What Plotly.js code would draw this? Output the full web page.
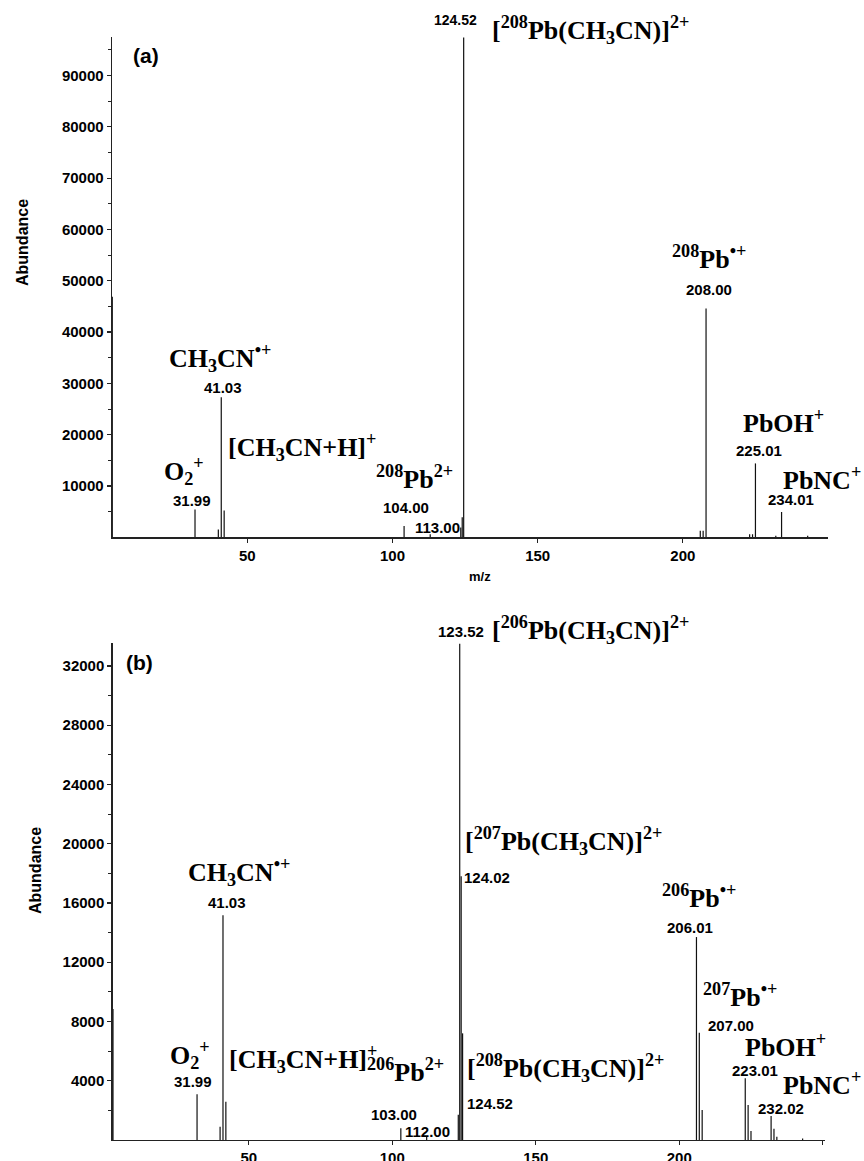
<!DOCTYPE html>
<html>
<head>
<meta charset="utf-8">
<script src="https://cdn.plot.ly/plotly-3.0.1.min.js"></script>
<style>html,body{margin:0;padding:0;background:#fff}#chart{width:864px;height:1161px}</style>
</head>
<body>
<div id="chart"></div>
<script>
// ---- Panel (a) data ----
const mzA = [3.5, 31.99, 40.02, 41.03, 42.03, 104.00, 113.00, 123.52, 124.02, 124.52, 206.01, 207.00, 208.00, 223.01, 224.01, 225.01, 232.02, 234.01, 243.0];
const abA = [46900, 5400, 1500, 27300, 5200, 2200, 600, 1900, 3900, 97400, 1300, 1300, 44600, 600, 600, 14400, 300, 4950, 300];
// ---- Panel (b) data ----
const mzB = [2.7, 31.99, 40.02, 41.03, 42.03, 103.00, 112.00, 123.02, 123.52, 124.02, 124.52, 206.01, 207.00, 208.00, 223.01, 224.01, 225.01, 232.02, 233.02, 234.02, 243.0];
const abB = [8840, 3080, 900, 15180, 2580, 790, 250, 1700, 33500, 17800, 7200, 13700, 7240, 2020, 4160, 2360, 600, 1620, 760, 220, 100];

// tick labels
const yTicksA = [10000, 20000, 30000, 40000, 50000, 60000, 70000, 80000, 90000];
const yTicksB = [4000, 8000, 12000, 16000, 20000, 24000, 28000, 32000];
const xTicks = [50, 100, 150, 200];

function sticks(mz, ab) {
  const x = [], y = [];
  for (let i = 0; i < mz.length; i++) { x.push(mz[i], mz[i], null); y.push(0, ab[i], null); }
  return {x, y};
}
const sA = sticks(mzA, abA), sB = sticks(mzB, abB);

const traces = [
  {x: sA.x, y: sA.y, type: 'scatter', mode: 'lines', line: {color: '#111', width: 1.2}, xaxis: 'x', yaxis: 'y', hoverinfo: 'skip', connectgaps: false, cliponaxis: false},
  {x: sB.x, y: sB.y, type: 'scatter', mode: 'lines', line: {color: '#111', width: 1.2}, xaxis: 'x2', yaxis: 'y2', hoverinfo: 'skip', connectgaps: false, cliponaxis: false}
];

const tickFont = {family: 'Liberation Sans, Arial, sans-serif', size: 15, color: '#000', weight: 'bold'};
const axisCommon = {showline: true, linecolor: '#222', linewidth: 1.4, ticks: 'outside', ticklen: 4, tickwidth: 1.2, tickcolor: '#222', showgrid: false, zeroline: false, tickfont: tickFont, fixedrange: true};

const ionFont = {family: 'Liberation Serif, Times New Roman, serif', size: 26, color: '#000', weight: 'bold'};
const numFont = {family: 'Liberation Sans, Arial, sans-serif', size: 15, color: '#000', weight: 'bold'};

function ion(text, x, y, ax, xanchor, yref) { return {text, x, y, xref: ax === 2 ? 'x2' : 'x', yref: yref || (ax === 2 ? 'y2' : 'y'), showarrow: false, font: ionFont, xanchor: xanchor || 'center', yanchor: 'middle'}; }
function num(text, x, y, ax, xanchor, size, yref) { return {text, x, y, xref: ax === 2 ? 'x2' : 'x', yref: yref || (ax === 2 ? 'y2' : 'y'), showarrow: false, font: Object.assign({}, numFont, size ? {size} : {}), xanchor: xanchor || 'center', yanchor: 'middle'}; }

const annotations = [
  // panel a
  {text: '(a)', x: 15.0, y: 93850, xref: 'x', yref: 'y', showarrow: false, font: {family: 'Liberation Sans, Arial, sans-serif', size: 21, weight: 'bold', color: '#000'}},
  num('124.52', 121.8, 1 - 20/1161, 1, 'center', 14, 'paper'),
  ion('[<sup>208</sup>Pb(CH<sub>3</sub>CN)]<sup>2+</sup>', 133.7, 1 - 30/1161, 1, 'left', 'paper'),
  ion('CH<sub>3</sub>CN<sup>•+</sup>', 40.6, 34960, 1),
  num('41.03', 41.7, 29170, 1),
  ion('[CH<sub>3</sub>CN+H]<sup>+</sup>', 42.65, 17510, 1, 'left'),
  ion('O<sub>2</sub><sup>+</sup>', 28.2, 12930, 1),
  num('31.99', 30.8, 7270, 1),
  ion('<sup>208</sup>Pb<sup>2+</sup>', 107.5, 11560, 1),
  num('104.00', 104.55, 5850, 1),
  num('113.00', 115.5, 1950, 1),
  ion('<sup>208</sup>Pb<sup>•+</sup>', 208.9, 54460, 1),
  num('208.00', 208.9, 48240, 1),
  ion('PbOH<sup>+</sup>', 234.8, 22480, 1),
  num('225.01', 226.4, 16830, 1),
  ion('PbNC<sup>+</sup>', 248.1, 11500, 1),
  num('234.01', 237.1, 7410, 1),
  {text: 'm/z', x: 0.555, y: 1 - 577/1161, xref: 'paper', yref: 'paper', xanchor: 'center', yanchor: 'middle', showarrow: false, font: {family: 'Liberation Sans, Arial, sans-serif', size: 13, weight: 'bold', color: '#000'}},
  {text: 'Abundance', x: 22/864, y: 1 - 243/1161, xref: 'paper', yref: 'paper', xanchor: 'center', yanchor: 'middle', showarrow: false, textangle: -90, font: {family: 'Liberation Sans, Arial, sans-serif', size: 16, weight: 'bold', color: '#000'}},
  // panel b
  {text: '(b)', x: 12.0, y: 32260, xref: 'x2', yref: 'y2', showarrow: false, font: {family: 'Liberation Sans, Arial, sans-serif', size: 21, weight: 'bold', color: '#000'}},
  num('123.52', 123.9, 1 - 631/1161, 2, 'center', 15, 'paper'),
  ion('[<sup>206</sup>Pb(CH<sub>3</sub>CN)]<sup>2+</sup>', 134.1, 1 - 630/1161, 2, 'left', 'paper'),
  ion('[<sup>207</sup>Pb(CH<sub>3</sub>CN)]<sup>2+</sup>', 124.8, 20170, 2, 'left'),
  num('124.02', 124.2, 17720, 2, 'left'),
  ion('[<sup>208</sup>Pb(CH<sub>3</sub>CN)]<sup>2+</sup>', 125.4, 4856, 2, 'left'),
  num('124.52', 125.4, 2475, 2, 'left'),
  ion('<sup>206</sup>Pb<sup>2+</sup>', 104.6, 4720, 2),
  num('103.00', 100.7, 1690, 2),
  num('112.00', 112.3, 560, 2),
  ion('CH<sub>3</sub>CN<sup>•+</sup>', 46.7, 18080, 2),
  num('41.03', 42.3, 16030, 2),
  ion('O<sub>2</sub><sup>+</sup>', 29.65, 5730, 2),
  num('31.99', 30.7, 3930, 2),
  ion('[CH<sub>3</sub>CN+H]<sup>+</sup>', 42.3, 5500, 2, 'left'),
  ion('<sup>206</sup>Pb<sup>•+</sup>', 207.0, 16410, 2),
  num('206.01', 203.7, 14350, 2),
  ion('<sup>207</sup>Pb<sup>•+</sup>', 221.1, 9780, 2),
  num('207.00', 217.9, 7757, 2),
  ion('PbOH<sup>+</sup>', 236.9, 6408, 2),
  num('223.01', 226.5, 4720, 2),
  ion('PbNC<sup>+</sup>', 249.9, 3820, 2),
  num('232.02', 235.3, 2140, 2),
  {text: 'Abundance', x: 35/864, y: 1 - 871/1161, xref: 'paper', yref: 'paper', xanchor: 'center', yanchor: 'middle', showarrow: false, textangle: -90, font: {family: 'Liberation Sans, Arial, sans-serif', size: 16, weight: 'bold', color: '#000'}}
];

const layout = {
  width: 864, height: 1161,
  margin: {l: 0, r: 0, t: 0, b: 0},
  paper_bgcolor: '#fff', plot_bgcolor: '#fff',
  showlegend: false,
  xaxis: Object.assign({}, axisCommon, {domain: [112/864, 828/864], anchor: 'y', range: [3.4, 250], tickvals: xTicks, ticktext: xTicks.map(String)}),
  yaxis: Object.assign({}, axisCommon, {domain: [1 - 537.3/1161, 1 - 37/1161], anchor: 'x', range: [0, 97500], tickvals: yTicksA, ticktext: yTicksA.map(String), minor: {tickvals: [5000,15000,25000,35000,45000,55000,65000,75000,85000,95000], ticks: 'outside', ticklen: 3, tickcolor: '#222', tickwidth: 1}}),
  xaxis2: Object.assign({}, axisCommon, {domain: [112.7/864, 825/864], anchor: 'y2', range: [2.6, 250.8], tickvals: xTicks.concat([250]), ticktext: xTicks.map(String).concat([''])}),
  yaxis2: Object.assign({}, axisCommon, {domain: [1 - 1140/1161, 1 - 643/1161], anchor: 'x2', range: [0, 33550], tickvals: yTicksB, ticktext: yTicksB.map(String), minor: {tickvals: [2000,6000,10000,14000,18000,22000,26000,30000], ticks: 'outside', ticklen: 3, tickcolor: '#222', tickwidth: 1}}),
  annotations: annotations
};

Plotly.newPlot('chart', traces, layout, {staticPlot: true, displayModeBar: false});
</script>
</body>
</html>
